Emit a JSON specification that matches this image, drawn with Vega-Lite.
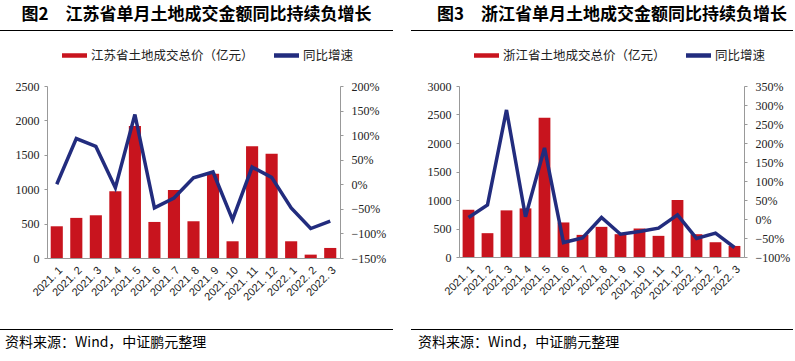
{
  "$schema": "https://vega.github.io/schema/vega-lite/v6.json",
  "background": "white",
  "padding": {"left": 0, "top": 6, "right": 0, "bottom": 0},
  "config": {"view": {"stroke": null}, "font": "Noto Sans CJK SC"},
  "columns": 2,
  "spacing": {"row": 10, "column": 18},
  "bounds": "flush",
  "align": "each",
  "resolve": {"scale": {"color": "independent"}, "legend": {"color": "independent"}},
  "concat": [
    {
      "width": 393, "height": 1,
      "data": {"values": []},
      "mark": "point", "encoding": {},
      "view": {"fill": "#000", "stroke": null},
      "title": {"text": "图2\u3000江苏省单月土地成交金额同比持续负增长", "font": "Noto Sans CJK SC", "fontSize": 17, "fontWeight": "bold", "color": "#000", "anchor": "middle", "offset": 6}
    },
    {
      "width": 382, "height": 1,
      "data": {"values": []},
      "mark": "point", "encoding": {},
      "view": {"fill": "#000", "stroke": null},
      "title": {"text": "图3\u3000浙江省单月土地成交金额同比持续负增长", "font": "Noto Sans CJK SC", "fontSize": 17, "fontWeight": "bold", "color": "#000", "anchor": "middle", "offset": 6, "dx": 10}
    },
    {"width": 1, "height": 35, "data": {"values": []}, "mark": "point", "encoding": {}},
    {"width": 1, "height": 35, "data": {"values": []}, "mark": "point", "encoding": {}},
    {
      "width": 393, "height": 172,
      "data": {"values": [
        {"m": "2021. 1", "v": 461, "g": 0.00},
        {"m": "2021. 2", "v": 583, "g": 0.93},
        {"m": "2021. 3", "v": 621, "g": 0.77},
        {"m": "2021. 4", "v": 971, "g": -0.07},
        {"m": "2021. 5", "v": 1917, "g": 1.42},
        {"m": "2021. 6", "v": 524, "g": -0.48},
        {"m": "2021. 7", "v": 990, "g": -0.28},
        {"m": "2021. 8", "v": 534, "g": 0.13},
        {"m": "2021. 9", "v": 1223, "g": 0.25},
        {"m": "2021. 10", "v": 243, "g": -0.72},
        {"m": "2021. 11", "v": 1626, "g": 0.35},
        {"m": "2021. 12", "v": 1515, "g": 0.14},
        {"m": "2022. 1", "v": 243, "g": -0.48},
        {"m": "2022. 2", "v": 49, "g": -0.90},
        {"m": "2022. 3", "v": 146, "g": -0.75}
      ]},
      "encoding": {
        "x": {"field": "m", "type": "ordinal", "sort": null, "title": null,
          "scale": {"range": [47, 340], "paddingInner": 0.38, "paddingOuter": 0.19},
          "axis": {"labelAngle": -45, "labelFont": "Liberation Sans", "labelFontSize": 11, "labelColor": "#222", "ticks": false, "domainColor": "#999", "labelPadding": 6}}
      },
      "layer": [
        {
          "mark": {"type": "bar"},
          "encoding": {
            "y": {"field": "v", "type": "quantitative", "title": null,
              "scale": {"domain": [0, 2500]},
              "axis": {"offset": -47, "values": [0, 500, 1000, 1500, 2000, 2500], "format": "d", "grid": false, "domainColor": "#999", "tickColor": "#999", "tickSize": 3, "labelFont": "Liberation Sans Narrow", "labelFontSize": 12, "labelColor": "#222", "labelPadding": 5}},
            "color": {"datum": "江苏省土地成交总价（亿元）",
              "scale": {"domain": ["江苏省土地成交总价（亿元）", "同比增速"], "range": ["#C8141E", "#222C7E"]},
              "legend": {"orient": "none", "legendX": 62, "legendY": -43, "direction": "horizontal", "title": null, "symbolType": "M-1,-0.18H1V0.18H-1Z", "symbolSize": 625, "symbolStrokeWidth": 0, "labelFont": "Noto Sans CJK SC", "labelFontSize": 12.5, "labelColor": "#222", "labelLimit": 0, "columnPadding": 20}}
          }
        },
        {
          "mark": {"type": "line", "strokeWidth": 3.5},
          "encoding": {
            "y": {"field": "g", "type": "quantitative", "title": null,
              "scale": {"domain": [-1.5, 2.0]},
              "axis": {"orient": "right", "offset": -53, "format": ".0%", "values": [-1.5, -1, -0.5, 0, 0.5, 1, 1.5, 2], "grid": false, "domainColor": "#999", "tickColor": "#999", "tickSize": 3, "labelFont": "Liberation Sans Narrow", "labelFontSize": 12, "labelColor": "#222", "labelPadding": 8}},
            "color": {"datum": "同比增速"}
          }
        }
      ],
      "resolve": {"scale": {"y": "independent"}}
    },
    {
      "width": 382, "height": 171,
      "data": {"values": [
        {"m": "2021. 1", "v": 829, "g": 0.04},
        {"m": "2021. 2", "v": 418, "g": 0.37},
        {"m": "2021. 3", "v": 818, "g": 2.87},
        {"m": "2021. 4", "v": 853, "g": 0.06},
        {"m": "2021. 5", "v": 2441, "g": 1.87},
        {"m": "2021. 6", "v": 606, "g": -0.62},
        {"m": "2021. 7", "v": 388, "g": -0.50},
        {"m": "2021. 8", "v": 529, "g": 0.04},
        {"m": "2021. 9", "v": 400, "g": -0.40},
        {"m": "2021. 10", "v": 500, "g": -0.33},
        {"m": "2021. 11", "v": 371, "g": -0.24},
        {"m": "2021. 12", "v": 1000, "g": 0.11},
        {"m": "2022. 1", "v": 400, "g": -0.51},
        {"m": "2022. 2", "v": 259, "g": -0.37},
        {"m": "2022. 3", "v": 194, "g": -0.75}
      ]},
      "encoding": {
        "x": {"field": "m", "type": "ordinal", "sort": null, "title": null,
          "scale": {"range": [48, 333], "paddingInner": 0.38, "paddingOuter": 0.19},
          "axis": {"labelAngle": -45, "labelFont": "Liberation Sans", "labelFontSize": 11, "labelColor": "#222", "ticks": false, "domainColor": "#999", "labelPadding": 6}}
      },
      "layer": [
        {
          "mark": {"type": "bar"},
          "encoding": {
            "y": {"field": "v", "type": "quantitative", "title": null,
              "scale": {"domain": [0, 3000]},
              "axis": {"offset": -48, "values": [0, 500, 1000, 1500, 2000, 2500, 3000], "format": "d", "grid": false, "domainColor": "#999", "tickColor": "#999", "tickSize": 3, "labelFont": "Liberation Sans Narrow", "labelFontSize": 12, "labelColor": "#222", "labelPadding": 5}},
            "color": {"datum": "浙江省土地成交总价（亿元）",
              "scale": {"domain": ["浙江省土地成交总价（亿元）", "同比增速"], "range": ["#C8141E", "#222C7E"]},
              "legend": {"orient": "none", "legendX": 63, "legendY": -43, "direction": "horizontal", "title": null, "symbolType": "M-1,-0.18H1V0.18H-1Z", "symbolSize": 625, "symbolStrokeWidth": 0, "labelFont": "Noto Sans CJK SC", "labelFontSize": 12.5, "labelColor": "#222", "labelLimit": 0, "columnPadding": 20}}
          }
        },
        {
          "mark": {"type": "line", "strokeWidth": 3.5},
          "encoding": {
            "y": {"field": "g", "type": "quantitative", "title": null,
              "scale": {"domain": [-1.0, 3.5]},
              "axis": {"orient": "right", "offset": -49, "format": ".0%", "values": [-1, -0.5, 0, 0.5, 1, 1.5, 2, 2.5, 3, 3.5], "grid": false, "domainColor": "#999", "tickColor": "#999", "tickSize": 3, "labelFont": "Liberation Sans Narrow", "labelFontSize": 12, "labelColor": "#222", "labelPadding": 8}},
            "color": {"datum": "同比增速"}
          }
        }
      ],
      "resolve": {"scale": {"y": "independent"}}
    },
    {"width": 1, "height": 51, "data": {"values": []}, "mark": "point", "encoding": {}},
    {"width": 1, "height": 51, "data": {"values": []}, "mark": "point", "encoding": {}},
    {
      "width": 393, "height": 1,
      "data": {"values": []},
      "mark": "point", "encoding": {},
      "view": {"fill": "#000", "stroke": null},
      "title": {"text": "资料来源：Wind，中证鹏元整理", "orient": "bottom", "anchor": "start", "font": "Noto Sans CJK SC", "fontSize": 14, "fontWeight": "normal", "color": "#000", "offset": 6, "dx": 5}
    },
    {
      "width": 382, "height": 1,
      "data": {"values": []},
      "mark": "point", "encoding": {},
      "view": {"fill": "#000", "stroke": null},
      "title": {"text": "资料来源：Wind，中证鹏元整理", "orient": "bottom", "anchor": "start", "font": "Noto Sans CJK SC", "fontSize": 14, "fontWeight": "normal", "color": "#000", "offset": 6, "dx": 7}
    }
  ]
}
